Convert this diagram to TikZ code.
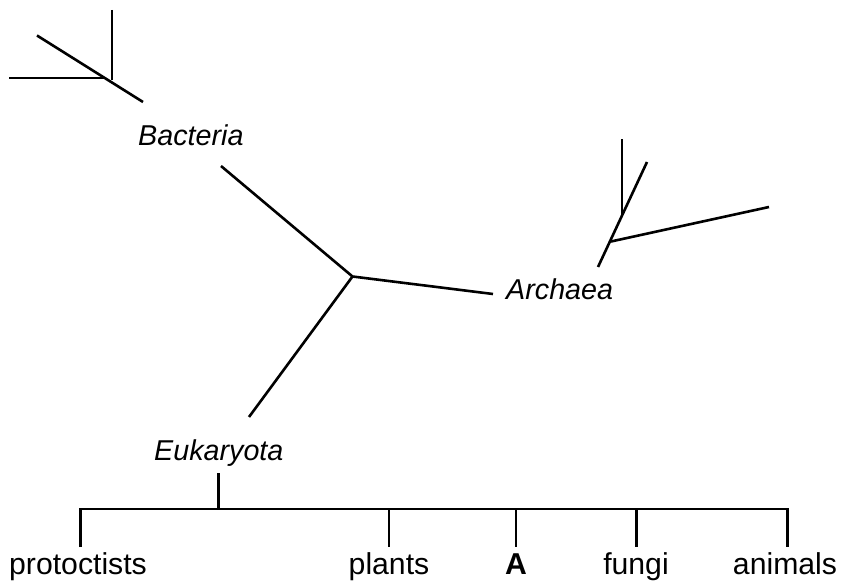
\documentclass[tikz,border=0pt]{standalone}
\usepackage{fontspec}
\setmainfont{Liberation Sans}
\begin{document}
\begin{tikzpicture}[x=1pt,y=-1pt,
  branch/.style={line width=2.6pt},
  taxon/.style={font=\fontsize{28.7}{32}\selectfont\itshape, inner sep=0pt},
  group/.style={font=\fontsize{30.2}{34}\selectfont, inner sep=0pt, anchor=base}]
\useasboundingbox (0,0) rectangle (841,585);
% labels
\node[taxon, anchor=base west] (bac) at (138,146) {Bacteria};
\node[taxon, anchor=base west] (arc) at (506,300) {Archaea};
\node[taxon, anchor=base west] (euk) at (154,460) {Eukaryota};
\node[group] (pro) at (78,574) {protoctists};
\node[group] (pla) at (389,574) {plants};
\node[group] (A) at (516,574) {\bfseries A};
\node[group] (fun) at (636,574) {fungi};
\node[group] (ani) at (785,574) {animals};
% central tree
\coordinate (c) at (352.5,276.5);
\coordinate (bend) at (221,166);
\coordinate (aend) at (493,294);
\coordinate (eend) at (249,417);
\draw[branch] (bend) -- (c) -- (aend);
\draw[branch] (c) -- (eend);
% bacteria tuft
\coordinate (bj) at (112,80);
\coordinate (b1) at (112,10);
\coordinate (b2) at (37,35.5);
\coordinate (b3) at (143,102);
\coordinate (b4) at (9,78);
\coordinate (b4j) at (104,78);
\draw[branch] (b1) -- (bj);
\draw[branch] (b2) -- (b3);
\draw[branch] (b4) -- (b4j);
% archaea tuft
\coordinate (a0) at (598,267);
\coordinate (a1) at (647,162);
\coordinate (aj) at (611,241.5);
\coordinate (a2) at (769,207);
\coordinate (a3j) at (622,216);
\coordinate (a3) at (622,139);
\draw[branch] (a0) -- (a1);
\draw[branch] (aj) -- (a2);
\draw[branch] (a3j) -- (a3);
% eukaryote bracket
\coordinate (es) at (218.5,473);
\coordinate (ej) at (218.5,509);
\draw[branch] (es) -- (ej);
\coordinate (bl) at (80.5,509);
\coordinate (br) at (787.5,509);
\draw[branch] (80.5,547) -- (bl) -- (br) -- (787.5,547);
\foreach \x/\n in {389/pla,516/A,636.5/fun}{
  \draw[branch] (\x,509) -- (\x,547);
}
\end{tikzpicture}
\end{document}
